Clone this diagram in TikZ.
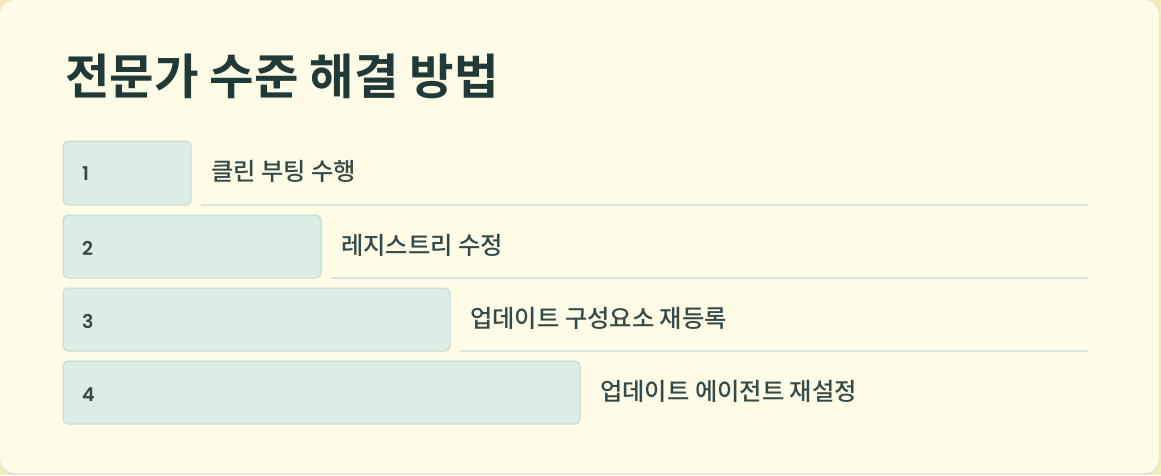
\documentclass[tikz,border=0pt]{standalone}
\usepackage{fontspec}
\setmainfont{Noto Sans CJK KR}
\newfontfamily\komed{Noto Sans CJK KR Medium}
\newfontfamily\kobold{Noto Sans CJK KR Bold}
\newfontfamily\numfont{Poppins SemiBold}
\definecolor{cardbg}{HTML}{FEFCE6}
\definecolor{outerbg}{HTML}{F3ECB8}
\definecolor{shadowcol}{HTML}{E3E2D6}
\definecolor{boxfill}{HTML}{DDEDE6}
\definecolor{boxedge}{HTML}{C4D8D0}
\definecolor{titlecol}{HTML}{213A38}
\definecolor{textcol}{HTML}{354947}
\definecolor{rulecol}{HTML}{DCE4DA}
\begin{document}
\begin{tikzpicture}[x=1pt,y=-1pt,
  stepbox/.style={draw=boxedge,line width=1pt,fill=boxfill,rounded corners=5pt},
  numtext/.style={anchor=west,text=textcol,font=\numfont\fontsize{19}{19}\selectfont,inner sep=0pt},
  labeltext/.style={anchor=west,text=textcol,font=\komed\fontsize{24.3}{24}\selectfont,inner sep=0pt},
  rowrule/.style={draw=rulecol,line width=2pt}]
\useasboundingbox (0,0) rectangle (1161,475);
\fill[outerbg] (0,0) rectangle (1161,475);
\fill[shadowcol,rounded corners=15pt] (0,0) rectangle (1160,475);
\fill[cardbg,rounded corners=15pt] (0,0) rectangle (1159,473);
\node[anchor=west,inner sep=0pt,text=titlecol,font=\kobold\fontsize{48.4}{48}\selectfont] (title) at (65,76) {전문가 수준 해결 방법};
% rows
\draw[stepbox] (63,141) rectangle (191,205);
\node[numtext] (n1) at (82,174) {1};
\node[labeltext] (l1) at (211,171) {클린 부팅 수행};
\draw[rowrule] (201,205) -- (1088,205);
\draw[stepbox] (63,215) rectangle (321,278);
\node[numtext] (n2) at (82,248) {2};
\node[labeltext] (l2) at (341,245) {레지스트리 수정};
\draw[rowrule] (331,278) -- (1088,278);
\draw[stepbox] (63,288) rectangle (450,351);
\node[numtext] (n3) at (82,321) {3};
\node[labeltext] (l3) at (470,318) {업데이트 구성요소 재등록};
\draw[rowrule] (460,351) -- (1088,351);
\draw[stepbox] (63,361) rectangle (580,424);
\node[numtext] (n4) at (82,395) {4};
\node[labeltext] (l4) at (600,391) {업데이트 에이전트 재설정};
\end{tikzpicture}
\end{document}
